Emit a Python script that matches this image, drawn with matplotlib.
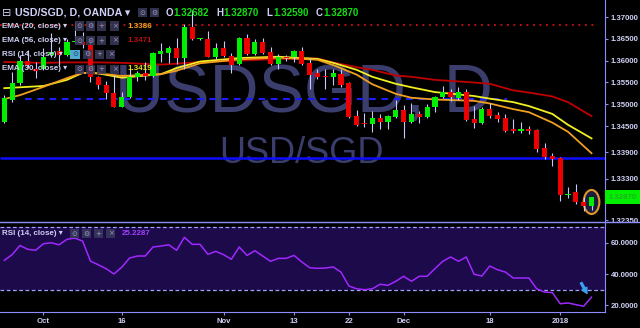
import matplotlib
matplotlib.use("Agg")
import matplotlib.pyplot as plt
from matplotlib.patches import Rectangle, Ellipse, FancyArrowPatch
from matplotlib.lines import Line2D

plt.rcParams['font.family'] = ['Liberation Sans', 'DejaVu Sans']

# ---------------- data ----------------
opens = [1.3460, 1.3510, 1.3548, 1.3599, 1.3580, 1.3582, 1.3613, 1.3621, 1.3613, 1.3643,
         1.3643, 1.3636, 1.3563, 1.3544, 1.3525, 1.3495, 1.3517, 1.3562, 1.3571, 1.3565,
         1.3615, 1.3618, 1.3628, 1.3605, 1.3676, 1.3649, 1.3649, 1.3609, 1.3628, 1.3611,
         1.3592, 1.3651, 1.3615, 1.3642, 1.3619, 1.3592, 1.3608, 1.3608, 1.3621, 1.3594,
         1.3571, 1.3564, 1.3563, 1.3569, 1.3548, 1.3473, 1.3456, 1.3455, 1.3468, 1.3460,
         1.3472, 1.3487, 1.3460, 1.3478, 1.3472, 1.3493, 1.3517, 1.3529, 1.3515, 1.3529,
         1.3467, 1.3457, 1.3489, 1.3475, 1.3469, 1.3442, 1.3440, 1.3442, 1.3441, 1.3399,
         1.3382, 1.3377, 1.3292, 1.3299, 1.3277, 1.32682]
highs = [1.3521, 1.3573, 1.3613, 1.3624, 1.3598, 1.3629, 1.3663, 1.3632, 1.3649, 1.3689,
         1.3666, 1.3647, 1.3566, 1.3554, 1.3567, 1.3529, 1.3581, 1.3576, 1.3598, 1.3620,
         1.3640, 1.3634, 1.3651, 1.3683, 1.3716, 1.3651, 1.3669, 1.3641, 1.3646, 1.3618,
         1.3655, 1.3661, 1.3649, 1.3652, 1.3631, 1.3615, 1.3612, 1.3625, 1.3632, 1.3605,
         1.3580, 1.3582, 1.3582, 1.3582, 1.3552, 1.3487, 1.3479, 1.3485, 1.3478, 1.3476,
         1.3510, 1.3498, 1.3502, 1.3485, 1.3501, 1.3519, 1.3542, 1.3536, 1.3540, 1.3536,
         1.3496, 1.3493, 1.3502, 1.3483, 1.3477, 1.3466, 1.3460, 1.3451, 1.3443, 1.3412,
         1.3388, 1.3379, 1.3311, 1.3318, 1.3288, 1.32870]
lows = [1.3458, 1.3506, 1.3545, 1.3583, 1.3560, 1.3579, 1.3608, 1.3590, 1.3610, 1.3640,
        1.3628, 1.3551, 1.3535, 1.3512, 1.3493, 1.3493, 1.3515, 1.3553, 1.3556, 1.3563,
        1.3598, 1.3594, 1.3593, 1.3580, 1.3647, 1.3648, 1.3608, 1.3604, 1.3608, 1.3571,
        1.3590, 1.3613, 1.3612, 1.3615, 1.3590, 1.3581, 1.3600, 1.3596, 1.3590, 1.3534,
        1.3559, 1.3534, 1.3544, 1.3540, 1.3468, 1.3450, 1.3447, 1.3437, 1.3444, 1.3443,
        1.3468, 1.3422, 1.3457, 1.3457, 1.3469, 1.3483, 1.3514, 1.3508, 1.3509, 1.3462,
        1.3445, 1.3456, 1.3468, 1.3459, 1.3436, 1.3435, 1.3435, 1.3433, 1.3390, 1.3374,
        1.3359, 1.3279, 1.3285, 1.3272, 1.3256, 1.32590]
closes = [1.3514, 1.3548, 1.3599, 1.3590, 1.3576, 1.3609, 1.3620, 1.3613, 1.3643, 1.3645,
          1.3636, 1.3563, 1.3544, 1.3525, 1.3495, 1.3517, 1.3563, 1.3571, 1.3565, 1.3617,
          1.3621, 1.3628, 1.3605, 1.3676, 1.3649, 1.3650, 1.3609, 1.3628, 1.3611, 1.3590,
          1.3651, 1.3615, 1.3642, 1.3617, 1.3592, 1.3608, 1.3607, 1.3621, 1.3592, 1.3567,
          1.3563, 1.3563, 1.3571, 1.3544, 1.3472, 1.3453, 1.3454, 1.3468, 1.3460, 1.3473,
          1.3487, 1.3460, 1.3478, 1.3472, 1.3493, 1.3517, 1.3529, 1.3517, 1.3528, 1.3464,
          1.3458, 1.3489, 1.3474, 1.3466, 1.3440, 1.3440, 1.3442, 1.3440, 1.3397, 1.3379,
          1.3374, 1.3292, 1.3294, 1.3276, 1.3268, 1.32870]

ema_idx = [0, 2, 5, 8, 10, 12, 15, 20, 22, 25, 30, 35, 40, 42, 45, 47, 50, 52, 55, 60, 62, 65, 67, 70, 72, 75]
ema20 = [1.3512, 1.3521, 1.3540, 1.3560, 1.3572, 1.3571, 1.3565, 1.3569, 1.3577, 1.3594, 1.3603, 1.3607, 1.3602,
         1.3590, 1.3568, 1.3546, 1.3524, 1.3515, 1.3511, 1.3508, 1.3502, 1.3489, 1.3482, 1.3458, 1.3437, 1.3388]
ema30 = [1.3537, 1.3539, 1.3542, 1.3556, 1.3572, 1.3571, 1.3561, 1.3569, 1.3583, 1.3598, 1.3606, 1.3609, 1.3604,
         1.3595, 1.3579, 1.3563, 1.3547, 1.3539, 1.3528, 1.3519, 1.3513, 1.3505, 1.3496, 1.3478, 1.3453, 1.3422]
ema56 = [1.3597, 1.3596, 1.3595, 1.3596, 1.3596, 1.3596, 1.3595, 1.3591, 1.3593, 1.3597, 1.3600, 1.3604, 1.3605,
         1.3596, 1.3585, 1.3579, 1.3566, 1.3563, 1.3556, 1.3550, 1.3547, 1.3532, 1.3527, 1.3518, 1.3505, 1.3473]

rsi = [48.8, 52.5, 58.4, 55.9, 55.3, 59.5, 60.1, 58.8, 62.3, 63.1,
       61.2, 48.4, 46.0, 43.5, 40.1, 44.4, 50.3, 51.6, 51.6, 57.4,
       58.0, 58.8, 55.3, 63.6, 59.1, 59.1, 52.7, 54.6, 52.5, 49.5,
       57.4, 52.0, 55.0, 51.6, 48.2, 50.1, 50.1, 52.0, 47.8, 44.1,
       43.7, 43.9, 44.6, 41.3, 32.4, 30.6, 30.0, 30.6, 33.5, 32.8,
       35.4, 38.6, 35.4, 38.6, 38.6, 43.5, 48.2, 51.0, 48.2, 51.0,
       39.9, 38.8, 45.2, 42.8, 41.3, 37.5, 37.5, 37.5, 30.6, 28.5,
       28.1, 21.0, 21.5, 20.4, 19.4, 25.2287]

tick_pos = [5, 15, 28, 37, 44, 51, 62, 71]
tick_labels = ['Oct', '16', 'Nov', '13', '22', 'Dec', '18', '2018']
price_ticks = [1.37, 1.365, 1.36, 1.355, 1.35, 1.345, 1.339, 1.333, 1.3235]
rsi_ticks = [20, 40, 60]

ohlc_last = [('O', '1.32682'), ('H', '1.32870'), ('L', '1.32590'), ('C', '1.32870')]
ema_labels = [('EMA (20, close)', '1.3386'), ('EMA (56, close)', '1.3471'),
              ('RSI (14, close)', None), ('EMA (30, close)', '1.3419')]
last_price = 1.32870
rsi_last_label = '25.2287'
dotted_level = 1.36817
dashed_level = 1.35129
support_level = 1.33764

# ---------------- styles ----------------
W, H = 640, 328
AXC = '#8c8cff'
LBL = '#cfd0f5'
GREEN = '#00ee00'
RED = '#ee0000'
ORANGE = '#f0a020'
YELLOW = '#f0f020'
DRED = '#c00000'


def fx(x):
    return x / W


def fy(y):
    return 1 - y / H


fig = plt.figure(figsize=(6.4, 3.28), dpi=100, facecolor='black')

# ---------------- price panel ----------------
ax = fig.add_axes([0, fy(222), 605 / W, 222 / H], facecolor='black')
ax.set_xlim(-0.549, 76.72)
ax.set_ylim(1.323046, 1.373894)
for s in ['top', 'left', 'bottom']:
    ax.spines[s].set_visible(False)
ax.spines['right'].set_color(AXC)
ax.yaxis.tick_right()
ax.set_yticks(price_ticks)
ax.set_yticklabels([f'{v:.5f}' for v in price_ticks])
ax.tick_params(axis='y', colors=AXC, labelcolor=LBL, length=2.5, width=0.8, pad=1.5, labelsize=5.6)
for t in ax.get_yticklabels():
    t.set_fontweight('bold')
ax.set_xticks([])

# watermark
ax.text(fx(304), fy(112), 'USDSGD, D', transform=fig.transFigure, ha='center', va='baseline',
        fontsize=49, color='#3b3e6c', zorder=0.5, family='Liberation Sans')
ax.text(fx(302), fy(163), 'USD/SGD', transform=fig.transFigure, ha='center', va='baseline',
        fontsize=26, color='#3b3e6c', zorder=0.5, family='Liberation Sans')

idx = list(range(len(opens)))
ax.hlines(dotted_level, -0.55, 75.3, colors='#d01010', linestyles=(0, (1, 2.6)), lw=1.3, zorder=1)
ax.hlines(dashed_level, 2.6, 64.2, colors='#1c1cff', linestyles=(0, (3.2, 2.7)), lw=1.5, zorder=1)
ax.hlines(support_level, -0.55, 76.72, colors='#0c0cff', lw=1.8, zorder=1)

ax.plot(ema_idx, ema56, color=DRED, lw=1.3, zorder=2)
ax.plot(ema_idx, ema30, color=YELLOW, lw=1.3, zorder=2)
ax.plot(ema_idx, ema20, color=ORANGE, lw=1.3, zorder=2)

ax.add_patch(Ellipse((75, 1.32763), 2.0, 0.0055, facecolor='#1c1c3c', edgecolor='#e0962a', lw=1.5, zorder=2.5))

cols = [GREEN if c >= o else RED for o, c in zip(opens, closes)]
bottoms = [min(o, c) for o, c in zip(opens, closes)]
heights = [max(abs(c - o), 0.00025) for o, c in zip(opens, closes)]
ax.vlines(idx, lows, highs, colors='#c8c8ff', lw=0.8, zorder=3)
ax.bar(idx, heights, bottom=bottoms, width=0.66, color=cols, linewidth=0, zorder=4)

# ---------------- RSI panel ----------------
rax = fig.add_axes([0, fy(312), 605 / W, (312 - 222.5) / H], facecolor='black')
rax.set_xlim(-0.549, 76.72)
rax.set_ylim(15.7, 73.1)
rax.axhspan(30, 70, color='#1c0a4a', lw=0, zorder=0)
rax.axhline(70, color='#a0a0ff', ls=(0, (3, 2)), lw=0.9, zorder=1)
rax.axhline(30, color='#a0a0ff', ls=(0, (3, 2)), lw=0.9, zorder=1)
rax.plot(idx, rsi, color='#a028ff', lw=1.1, zorder=2)
for s in ['top', 'left']:
    rax.spines[s].set_visible(False)
rax.spines['right'].set_color(AXC)
rax.spines['bottom'].set_color(AXC)
rax.yaxis.tick_right()
rax.set_yticks(rsi_ticks)
rax.set_yticklabels([f'{v:.4f}' for v in rsi_ticks])
rax.set_xticks(tick_pos)
rax.set_xticklabels(tick_labels)
rax.tick_params(axis='both', colors=AXC, labelcolor=LBL, length=2.5, width=0.8, pad=1.5, labelsize=5.6)
for t in rax.get_yticklabels() + rax.get_xticklabels():
    t.set_fontweight('bold')
rax.add_patch(FancyArrowPatch((73.5, 36.0), (74.6, 26.0),
                              arrowstyle='simple,head_width=4,head_length=4,tail_width=1.3',
                              color='#3aa0f0', zorder=5))

# separator line and last price tag
fig.add_artist(Line2D([0, 1], [fy(222), fy(222)], transform=fig.transFigure, color=AXC, lw=1))
fig.add_artist(Rectangle((fx(605), fy(204)), 35 / W, 14 / H, transform=fig.transFigure,
                         facecolor='#00f000', edgecolor='none'))
fig.text(fx(622.5), fy(197.3), f'{last_price:.5f}', ha='center', va='center', fontsize=5.6,
         fontweight='bold', color='#22b022')


# ---------------- header & legend ----------------
def icon(x, y, sym, fc='#3a3a5c', tc='#9a9ac0', w=9):
    fig.add_artist(Rectangle((fx(x), fy(y + 4.5)), w / W, 9 / H, transform=fig.transFigure,
                             facecolor=fc, edgecolor='none', alpha=0.85))
    fig.text(fx(x + w / 2), fy(y), sym, ha='center', va='center', fontsize=5, color=tc,
             family=['DejaVu Sans'])


fig.text(fx(2), fy(12.7), '⊟', ha='left', va='center', fontsize=8, color=LBL, family=['DejaVu Sans'])
fig.text(fx(15), fy(12.7), 'USD/SGD, D, OANDA ▾', ha='left', va='center', fontsize=7.7,
         fontweight='bold', color=LBL)
icon(138, 12.7, '⊙')
icon(150, 12.7, '⚙')
for k, (letter, val) in enumerate(ohlc_last):
    x0 = 166 + 50 * k
    fig.text(fx(x0), fy(12.7), letter, ha='left', va='center', fontsize=7, fontweight='bold', color=LBL)
    fig.text(fx(x0 + 7.5), fy(12.7), val, ha='left', va='center', fontsize=7, fontweight='bold', color='#10e010')

row_y = [26, 40.7, 54.3, 69]
val_cols = [ORANGE, '#b81010', None, '#e8e020']
for (name, val), yy, vc in zip(ema_labels, row_y, val_cols):
    fig.text(fx(2), fy(yy), name + ' ▾', ha='left', va='center', fontsize=5.8, fontweight='bold', color=LBL)
    if val is None:
        icon(70, yy, '⊙', fc='#5cc8f5', tc='#204060', w=10)
        icon(83, yy, '⚙')
        icon(95, yy, '+')
        icon(106, yy, '×')
    else:
        icon(75, yy, '⊙')
        icon(86, yy, '⚙')
        icon(97, yy, '+')
        icon(110, yy, '×')
        fig.text(fx(127), fy(yy), val, ha='left', va='center', fontsize=5.8, fontweight='bold', color=vc)

fig.text(fx(2), fy(233.7), 'RSI (14, close) ▾', ha='left', va='center', fontsize=5.8, fontweight='bold', color=LBL)
icon(70, 233.7, '⊙')
icon(82, 233.7, '⚙')
icon(94, 233.7, '+')
icon(106, 233.7, '×')
fig.text(fx(122), fy(233.7), rsi_last_label, ha='left', va='center', fontsize=5.8, fontweight='bold', color='#a040ff')

fig.savefig('out.png', dpi=100, facecolor='black')
